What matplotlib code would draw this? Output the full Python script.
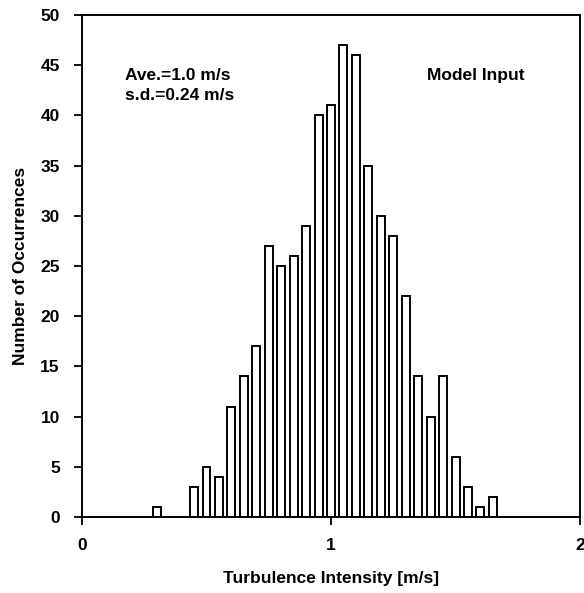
import numpy as np
import matplotlib
matplotlib.use('Agg')
from matplotlib import pyplot as plt

matplotlib.rcParams['font.family'] = ['Liberation Sans', 'DejaVu Sans']
matplotlib.rcParams['font.weight'] = 'bold'
matplotlib.rcParams['axes.labelweight'] = 'bold'

# histogram bins (bin centres, m/s) and counts
intensity = [0.30, 0.45, 0.50, 0.55, 0.60, 0.65, 0.70, 0.75, 0.80, 0.85,
             0.90, 0.95, 1.00, 1.05, 1.10, 1.15, 1.20, 1.25, 1.30, 1.35,
             1.40, 1.45, 1.50, 1.55, 1.60, 1.65]
counts = [1, 3, 5, 4, 11, 14, 17, 27, 25, 26,
          29, 40, 41, 47, 46, 35, 30, 28, 22, 14,
          10, 14, 6, 3, 1, 2]

xticks = [0, 1, 2]
yticks = [0, 5, 10, 15, 20, 25, 30, 35, 40, 45, 50]

fig = plt.figure(figsize=(5.84, 5.93), dpi=100)
ax = fig.add_axes([0.1404, 0.1282, 0.8528, 0.8465])

ax.bar(intensity, counts, width=0.032, facecolor='white',
       edgecolor='black', linewidth=1.4)

ax.set_xlim(0, 2)
ax.set_ylim(0, 50)
ax.set_xticks(xticks)
ax.set_yticks(yticks)
ax.tick_params(direction='out', length=6, width=1.3, labelsize=12.5)
ax.tick_params(axis='x', pad=9)
ax.tick_params(axis='y', pad=10)
for s in ax.spines.values():
    s.set_linewidth(1.4)

ax.set_xlabel('Turbulence Intensity [m/s]', fontsize=12.5, labelpad=13)
ax.set_ylabel('Number of Occurrences', fontsize=12.5, labelpad=9)

# annotations
ax.text(0.0863, 0.8705, 'Ave.=1.0 m/s', transform=ax.transAxes,
        fontsize=12.5, va='baseline', ha='left')
ax.text(0.0863, 0.8307, 's.d.=0.24 m/s', transform=ax.transAxes,
        fontsize=12.5, va='baseline', ha='left')
ax.text(0.6928, 0.8705, 'Model Input', transform=ax.transAxes,
        fontsize=12.5, va='baseline', ha='left')

fig.savefig('out.png', dpi=100)
